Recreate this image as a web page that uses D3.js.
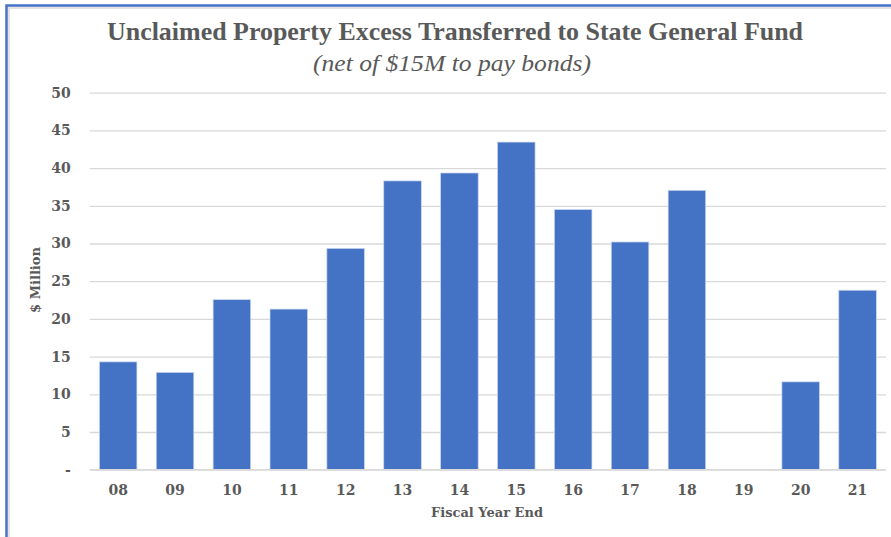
<!DOCTYPE html>
<html>
<head>
<meta charset="utf-8">
<script src="https://cdn.jsdelivr.net/npm/d3@7"></script>
<style>
  html, body { margin: 0; padding: 0; background: #fff; }
  svg { display: block; }
  .tick text { font-family: "DejaVu Serif", "Liberation Serif", serif; font-weight: bold; fill: #595959; }
</style>
</head>
<body>
<div id="chart-area"></div>
<script>
const years = ["08", "09", "10", "11", "12", "13", "14", "15", "16", "17", "18", "19", "20", "21"];
const amounts = [14.3, 12.9, 22.55, 21.3, 29.35, 38.3, 39.35, 43.45, 34.5, 30.2, 37.05, 0, 11.65, 23.8];
const yTicks = [0, 5, 10, 15, 20, 25, 30, 35, 40, 45, 50];

const drawGraph = () => {
  const chartWidth = 891;
  const chartHeight = 537;
  const margin = {
    top: 92.7,
    left: 89.7,
    right: 5,
    bottom: 67.3
  };
  const plotWidth = chartWidth - margin.left - margin.right;
  const plotHeight = chartHeight - margin.top - margin.bottom;

  const svg = d3.select("#chart-area")
                .append("svg")
                .attr("width", chartWidth)
                .attr("height", chartHeight);

  // outer frame (blue edge on top and left, thin grey inside)
  svg.append("path")
     .attr("d", `M9,${chartHeight} V8 H${chartWidth}`)
     .attr("fill", "none")
     .attr("stroke", "#d9d9d9")
     .attr("stroke-width", 1.5);
  svg.append("path")
     .attr("d", `M6.5,${chartHeight} V5.5 H${chartWidth}`)
     .attr("fill", "none")
     .attr("stroke", "#4472C4")
     .attr("stroke-width", 2.5);

  const x = d3.scaleBand()
              .domain(years)
              .range([0, plotWidth])
              .paddingInner(0.34)
              .paddingOuter(0.17);

  const y = d3.scaleLinear()
              .domain([0, 50])
              .range([plotHeight, 0]);

  const plot = svg.append("g")
                  .attr("transform", "translate(" + margin.left + ", " + margin.top + ")");

  const axisY = d3.axisLeft(y)
                  .tickValues(yTicks)
                  .tickSize(-plotWidth)
                  .tickPadding(19)
                  .tickFormat(d => d === 0 ? "-" : d);

  plot.append("g")
      .attr("id", "y-axis")
      .call(axisY)
      .call(g => g.select(".domain").remove())
      .call(g => g.selectAll(".tick line").attr("stroke", "#d9d9d9").attr("stroke-width", 1.3))
      .call(g => g.selectAll(".tick text").attr("font-size", 14));

  plot.selectAll("rect.bar")
      .data(amounts)
      .enter()
      .append("rect")
      .attr("class", "bar")
      .attr("x", (d, i) => x(years[i]))
      .attr("y", d => y(d))
      .attr("width", x.bandwidth())
      .attr("height", d => plotHeight - y(d))
      .attr("fill", "#4472C4")
      .attr("stroke", d => d > 0 ? "#c9d6ee" : "none")
      .attr("stroke-width", 0.7);

  const axisX = d3.axisBottom(x)
                  .tickSize(0)
                  .tickPadding(15);

  plot.append("g")
      .attr("id", "x-axis")
      .attr("transform", "translate(0," + plotHeight + ")")
      .call(axisX)
      .call(g => g.select(".domain").remove())
      .call(g => g.selectAll(".tick text").attr("font-size", 14));

  plot.append("line")
      .attr("x1", 0)
      .attr("x2", plotWidth)
      .attr("y1", plotHeight)
      .attr("y2", plotHeight)
      .attr("stroke", "#d9d9d9")
      .attr("stroke-width", 1.3);

  svg.append("text")
     .attr("text-anchor", "middle")
     .attr("x", 455)
     .attr("y", 40)
     .attr("font-family", "Liberation Serif, DejaVu Serif, serif")
     .attr("font-weight", "bold")
     .attr("font-size", 25)
     .attr("textLength", 696)
     .attr("lengthAdjust", "spacingAndGlyphs")
     .attr("fill", "#595959")
     .text("Unclaimed Property Excess Transferred to State General Fund");

  svg.append("text")
     .attr("text-anchor", "middle")
     .attr("x", 452)
     .attr("y", 71)
     .attr("font-family", "Liberation Serif, DejaVu Serif, serif")
     .attr("font-style", "italic")
     .attr("font-size", 23.5)
     .attr("textLength", 278)
     .attr("lengthAdjust", "spacingAndGlyphs")
     .attr("fill", "#595959")
     .text("(net of $15M to pay bonds)");

  svg.append("text")
     .attr("text-anchor", "middle")
     .attr("x", 487)
     .attr("y", 517)
     .attr("font-family", "DejaVu Serif, Liberation Serif, serif")
     .attr("font-weight", "bold")
     .attr("font-size", 13)
     .attr("fill", "#595959")
     .text("Fiscal Year End");

  svg.append("text")
     .attr("text-anchor", "middle")
     .attr("x", 40)
     .attr("y", 280)
     .attr("transform", "rotate(-90 40,280)")
     .attr("font-family", "DejaVu Serif, Liberation Serif, serif")
     .attr("font-weight", "bold")
     .attr("font-size", 13)
     .attr("fill", "#595959")
     .text("$ Million");
};

drawGraph();
</script>
</body>
</html>
